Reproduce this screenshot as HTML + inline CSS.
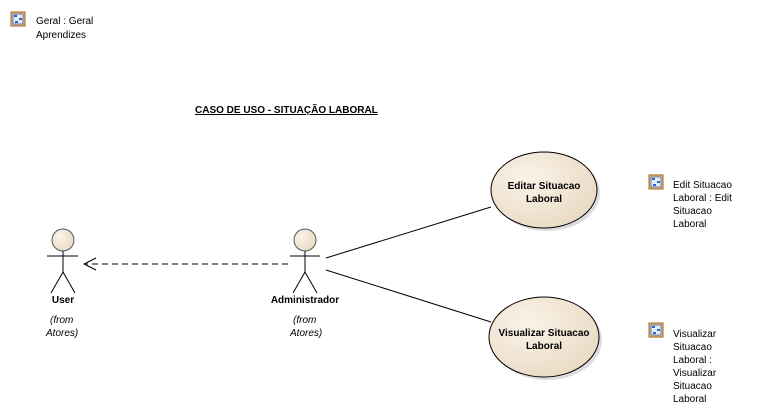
<!DOCTYPE html>
<html><head><meta charset="utf-8"><style>
body{margin:0;width:758px;height:420px;background:#fff;overflow:hidden}
svg{display:block}
text{font-family:"Liberation Sans",sans-serif;font-size:10px;fill:#000}
.b{font-weight:bold}
.i{font-style:italic}
</style></head><body>
<svg width="758" height="420" viewBox="0 0 758 420">
<defs>
<radialGradient id="g" cx="0.35" cy="0.35" r="0.8">
<stop offset="0" stop-color="#fbf3e8"/><stop offset="1" stop-color="#e7d7c0"/>
</radialGradient>
<g id="ic">
<rect x="0" y="0" width="14" height="14" fill="#f3c070" stroke="#a06020"/>
<rect x="2" y="2" width="10" height="10" fill="#e8eef8" stroke="#3060c0" stroke-width="0.8"/>
<rect x="3" y="3" width="3" height="2" fill="#3060c0"/><rect x="8" y="6" width="3" height="2" fill="#3060c0"/><rect x="4" y="9" width="3" height="2" fill="#3060c0"/>
</g>
</defs>
<use href="#ic" x="11" y="12"/>
<text x="36" y="24">Geral : Geral</text>
<text x="36" y="38">Aprendizes</text>
<text x="195" y="113" class="b" text-decoration="underline">CASO DE USO - SITUAÇÃO LABORAL</text>

<!-- connectors -->
<line x1="326" y1="258" x2="491" y2="207" stroke="#000"/>
<line x1="326" y1="270" x2="491" y2="322" stroke="#000"/>
<line x1="288" y1="264" x2="86" y2="264" stroke="#000" stroke-dasharray="6,4"/>
<polyline points="96,258 84,264 96,270" fill="none" stroke="#000"/>

<!-- actors -->
<g stroke="#000" fill="none">
<circle cx="63" cy="240" r="11" fill="url(#g)" stroke="#555"/>
<line x1="63" y1="251" x2="63" y2="272"/><line x1="47" y1="256" x2="78" y2="256"/>
<line x1="63" y1="272" x2="51" y2="293"/><line x1="63" y1="272" x2="75" y2="293"/>
<circle cx="305" cy="240" r="11" fill="url(#g)" stroke="#555"/>
<line x1="305" y1="251" x2="305" y2="272"/><line x1="290" y1="256" x2="320" y2="256"/>
<line x1="305" y1="272" x2="293" y2="293"/><line x1="305" y1="272" x2="317" y2="293"/>
</g>
<text x="63" y="303" class="b" text-anchor="middle">User</text>
<text x="50" y="323" class="i">(from</text>
<text x="46" y="336" class="i">Atores)</text>
<text x="305" y="303" class="b" text-anchor="middle">Administrador</text>
<text x="293" y="323" class="i">(from</text>
<text x="290" y="336" class="i">Atores)</text>

<!-- use cases -->
<ellipse cx="547" cy="193" rx="53" ry="38" fill="#bbb" opacity="0.5"/>
<ellipse cx="544" cy="190" rx="53" ry="38" fill="url(#g)" stroke="#000"/>
<text x="544" y="189" class="b" text-anchor="middle">Editar Situacao</text>
<text x="544" y="202" class="b" text-anchor="middle">Laboral</text>
<ellipse cx="547" cy="340" rx="55" ry="40" fill="#bbb" opacity="0.5"/>
<ellipse cx="544" cy="337" rx="55" ry="40" fill="url(#g)" stroke="#000"/>
<text x="544" y="336" class="b" text-anchor="middle">Visualizar Situacao</text>
<text x="544" y="349" class="b" text-anchor="middle">Laboral</text>

<use href="#ic" x="649" y="175"/>
<text x="673" y="188">Edit Situacao</text>
<text x="673" y="201">Laboral : Edit</text>
<text x="673" y="214">Situacao</text>
<text x="673" y="227">Laboral</text>
<use href="#ic" x="649" y="323"/>
<text x="673" y="337">Visualizar</text>
<text x="673" y="350">Situacao</text>
<text x="673" y="363">Laboral :</text>
<text x="673" y="376">Visualizar</text>
<text x="673" y="389">Situacao</text>
<text x="673" y="402">Laboral</text>
</svg>
</body></html>
